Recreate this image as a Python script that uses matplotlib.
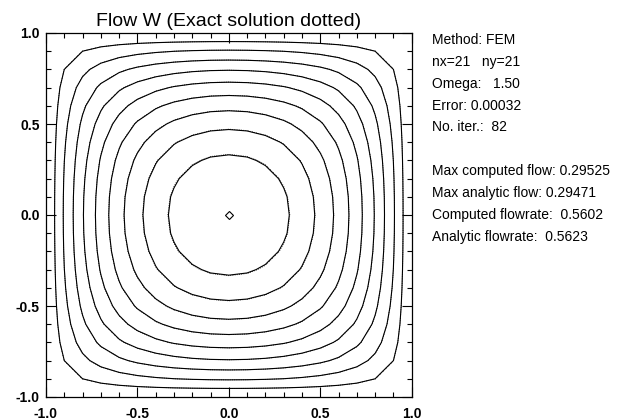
import numpy as np
import matplotlib
matplotlib.use('Agg')
import matplotlib.pyplot as plt
from matplotlib.ticker import MultipleLocator, FormatStrFormatter

plt.rcParams['font.family'] = ['Liberation Sans', 'DejaVu Sans']
plt.rcParams['axes.unicode_minus'] = False

# problem setup: -laplace(w) = 1 on [-1,1]^2, w = 0 on the walls
nx, ny = 21, 21
omega = 1.5

# contour levels (10%..90% of the max flow)
levels = [0.0295, 0.0590, 0.0886, 0.1181, 0.1476, 0.1772, 0.2067, 0.2362, 0.2657]

info_lines = [
    "Method: FEM",
    "nx=21   ny=21",
    "Omega:   1.50",
    "Error: 0.00032",
    "No. iter.:  82",
    "",
    "Max computed flow: 0.29525",
    "Max analytic flow: 0.29471",
    "Computed flowrate:  0.5602",
    "Analytic flowrate:  0.5623",
]

x = np.linspace(-1.0, 1.0, nx)
y = np.linspace(-1.0, 1.0, ny)
h = x[1] - x[0]
X, Y = np.meshgrid(x, y)

# computed solution: SOR on the grid (linear elements give the 5 point stencil)
w = np.zeros((ny, nx))
for it in range(2000):
    change = 0.0
    for j in range(1, ny - 1):
        for i in range(1, nx - 1):
            new = 0.25 * (w[j, i - 1] + w[j, i + 1] + w[j - 1, i] + w[j + 1, i] + h * h)
            d = omega * (new - w[j, i])
            w[j, i] += d
            change = max(change, abs(d))
    if change < 1e-9:
        break

# exact solution (series)
we = 0.5 * (1 - X ** 2)
for k in range(30):
    n = 2 * k + 1
    we -= (16 / np.pi ** 3) * (-1) ** k / n ** 3 * np.cos(n * np.pi * X / 2) \
        * np.cosh(n * np.pi * Y / 2) / np.cosh(n * np.pi / 2)

fig = plt.figure(figsize=(6.37, 4.2), dpi=100)
ax = fig.add_axes([46 / 637, 1 - 397 / 420, 365.7 / 637, 364 / 420])

ax.contour(X, Y, w, levels=levels, colors='k', linewidths=0.8)
ax.contour(X, Y, we, levels=levels, colors='k', linewidths=0.6, linestyles=':')

jmax, imax = np.unravel_index(np.argmax(w), w.shape)
ax.plot(x[imax], y[jmax], marker='D', markersize=4.5, markerfacecolor='none',
        markeredgecolor='k', markeredgewidth=0.8)

ax.set_xlim(-1, 1)
ax.set_ylim(-1, 1)
for axis in (ax.xaxis, ax.yaxis):
    axis.set_major_locator(MultipleLocator(0.5))
    axis.set_minor_locator(MultipleLocator(0.1))
    axis.set_major_formatter(FormatStrFormatter('%.1f'))
ax.tick_params(which='both', direction='in', top=True, right=True, width=0.8)
ax.tick_params(which='major', length=7)
ax.tick_params(which='minor', length=3.5)
ax.tick_params(axis='x', pad=7.5)
ax.tick_params(axis='y', pad=4.5)
for lab in ax.get_xticklabels() + ax.get_yticklabels():
    lab.set_fontsize(10)
    lab.set_fontweight('bold')
for sp in ax.spines.values():
    sp.set_linewidth(0.9)

ax.set_title("Flow W (Exact solution dotted)", fontsize=14, pad=5)

y0 = 40
for k, line in enumerate(info_lines):
    fig.text(431.7 / 637, 1 - (y0 + k * 21.85) / 420, line, fontsize=10,
             ha='left', va='center')

fig.savefig('out.png', dpi=100)
